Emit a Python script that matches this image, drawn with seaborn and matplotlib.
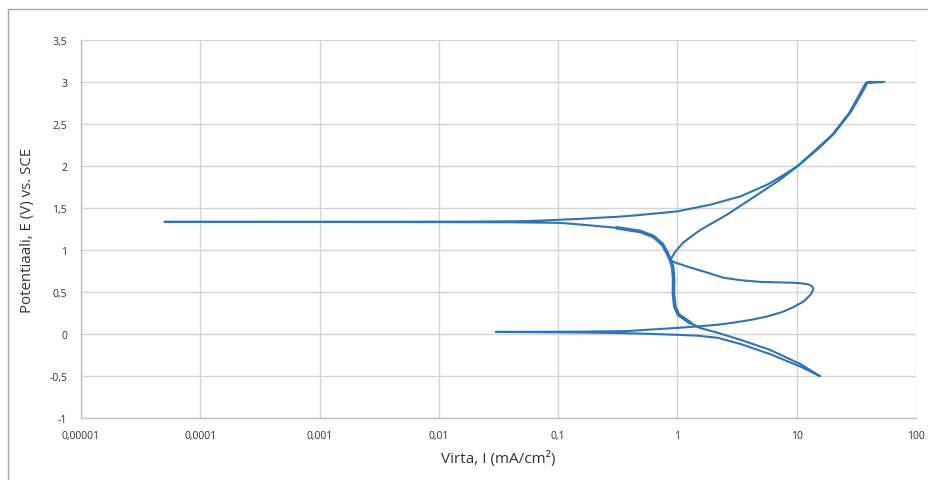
import numpy as np
import pandas as pd
import seaborn as sns
import matplotlib
matplotlib.use("Agg")
import matplotlib.pyplot as plt
from matplotlib.lines import Line2D

# ---- data (current in mA/cm2, potential in V vs SCE) ----
# forward scan, cathodic branch: -0.5 V up to first corrosion potential
cath_fwd_I = [15.6, 10.8, 6.0, 3.4, 2.17, 1.47, 1.0, 0.5, 0.225, 0.1, 0.05, 0.03]
cath_fwd_E = [-0.50, -0.39, -0.24, -0.12, -0.045, -0.02, -0.01, 0.005, 0.015, 0.02, 0.023, 0.025]

# forward scan, anodic loop back to the knot
loop_I = [0.06, 0.15, 0.38, 0.93, 1.47, 2.17, 2.95, 4.2, 5.7, 7.5, 9.4, 11.5, 13.1, 13.8,
          13.5, 12.6, 11.0, 9.4, 7.0, 4.97, 3.4, 2.43, 1.79, 1.29, 0.96, 0.87]
loop_E = [0.026, 0.028, 0.035, 0.07, 0.09, 0.11, 0.135, 0.17, 0.21, 0.26, 0.32, 0.39, 0.47, 0.53,
          0.565, 0.59, 0.603, 0.61, 0.615, 0.62, 0.64, 0.67, 0.73, 0.79, 0.85, 0.88]

# forward scan, transpassive rise to 3 V
trans_I = [0.96, 1.12, 1.56, 2.6, 4.7, 7.3, 10.2, 15.0, 20.4, 28.3, 36.5, 39.4, 54.0, 40.0]
trans_E = [0.98, 1.09, 1.24, 1.42, 1.66, 1.84, 2.0, 2.2, 2.38, 2.64, 2.91, 3.0, 3.0, 2.99]

# reverse scan down to second zero-current potential
rev_I = [38.0, 35.0, 27.5, 19.8, 14.6, 10.2, 7.5, 5.7, 3.4, 1.9, 1.0, 0.43, 0.31, 0.225, 0.15,
         0.086, 0.051, 0.02, 0.005, 0.001, 0.0002, 0.00005]
rev_E = [2.99, 2.9, 2.63, 2.37, 2.2, 2.0, 1.88, 1.78, 1.64, 1.54, 1.46, 1.41, 1.395, 1.385, 1.37,
         1.355, 1.343, 1.338, 1.337, 1.336, 1.336, 1.335]

# reverse scan, cathodic return through the passive plateau to -0.5 V
ret_I = [0.0002, 0.001, 0.01, 0.04, 0.062, 0.104, 0.163, 0.31, 0.49, 0.63, 0.75, 0.82, 0.87,
         0.91, 0.93, 0.925, 0.95, 1.02, 1.29, 1.56, 2.17, 3.4, 6.0, 10.8, 15.6]
ret_E = [1.334, 1.333, 1.332, 1.33, 1.327, 1.323, 1.30, 1.264, 1.22, 1.16, 1.065, 0.965, 0.885,
         0.805, 0.65, 0.49, 0.33, 0.23, 0.13, 0.07, 0.015, -0.07, -0.19, -0.36, -0.5]

x_ticks = [1e-5, 1e-4, 1e-3, 1e-2, 1e-1, 1, 10, 100]
x_tick_labels = ["0,00001", "0,0001", "0,001", "0,01", "0,1", "1", "10", "100"]
y_ticks = [-1, -0.5, 0, 0.5, 1, 1.5, 2, 2.5, 3, 3.5]
y_tick_labels = ["-1", "-0,5", "0", "0,5", "1", "1,5", "2", "2,5", "3", "3,5"]

I_all = cath_fwd_I + loop_I + trans_I + rev_I + ret_I
E_all = cath_fwd_E + loop_E + trans_E + rev_E + ret_E
df = pd.DataFrame({"I": I_all, "E": E_all})

# passive plateau segment (noisy/thick in the original)
n0 = len(cath_fwd_I) + len(loop_I) + len(trans_I) + len(rev_I)
plateau = df.iloc[n0 + 7: n0 + 19]

sns.set_theme(style="white")
plt.rcParams["font.family"] = ["Open Sans", "DejaVu Sans"]

W, H = 929, 481
fig = plt.figure(figsize=(W / 100, H / 100), dpi=100)
ax = fig.add_axes([81 / W, 1 - 419 / H, (916 - 81) / W, (419 - 41) / H])
ax.set_xscale("log")

color = "#2f74b5"
sns.lineplot(data=df, x="I", y="E", sort=False, estimator=None, ax=ax,
             color=color, linewidth=1.5)
sns.lineplot(data=plateau, x="I", y="E", sort=False, estimator=None, ax=ax,
             color=color, linewidth=2.6)

ax.set_xlim(1e-5, 100)
ax.set_ylim(-1, 3.5)
ax.xaxis.set_major_locator(matplotlib.ticker.FixedLocator(x_ticks))
ax.xaxis.set_minor_locator(matplotlib.ticker.NullLocator())
ax.set_xticklabels(x_tick_labels)
ax.set_yticks(y_ticks)
ax.set_yticklabels(y_tick_labels)
ax.tick_params(axis="both", length=0, labelsize=7.5, colors="#333333")
ax.tick_params(axis="x", pad=9)
ax.tick_params(axis="y", pad=10)

ax.grid(True, color="#d4d4d4", linewidth=1.0)
ax.set_axisbelow(True)
for s in ["top", "right"]:
    ax.spines[s].set_visible(False)
for s in ["left", "bottom"]:
    ax.spines[s].set_color("#bfbfbf")
    ax.spines[s].set_linewidth(1.0)

ax.set_xlabel("Virta, I (mA/cm²)", fontsize=11, color="#333333", labelpad=6)
ax.set_ylabel("Potentiaali, E (V) vs. SCE", fontsize=10.8, color="#333333", labelpad=10)

# chart-area border (top and left visible)
fig.add_artist(Line2D([8 / W, 1], [1 - 10 / H, 1 - 10 / H], color="#a6a6a6", lw=1.0,
                      transform=fig.transFigure))
fig.add_artist(Line2D([8 / W, 8 / W], [0, 1 - 10 / H], color="#a6a6a6", lw=1.0,
                      transform=fig.transFigure))

fig.savefig("out.png", dpi=100, facecolor="white")
